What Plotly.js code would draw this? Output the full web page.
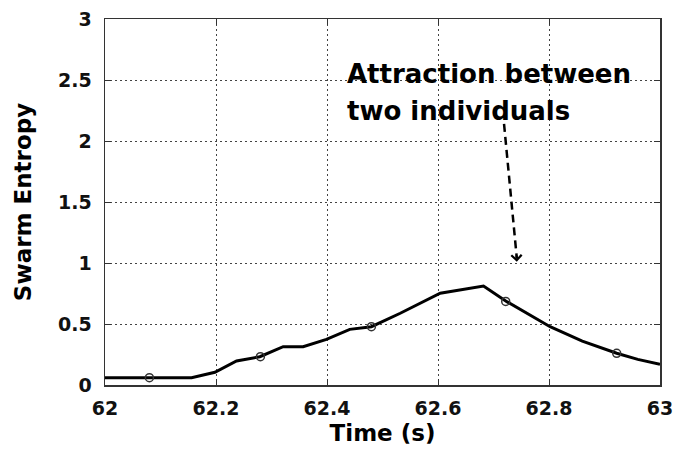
<!DOCTYPE html>
<html>
<head>
<meta charset="utf-8">
<script src="https://cdn.plot.ly/plotly-3.0.1.min.js"></script>
<style>
  html, body { margin: 0; padding: 0; background: #fff; }
  #chart { width: 675px; height: 452px; }
</style>
</head>
<body>
<div id="chart"></div>
<script>
// Line data
const time = [62.0, 62.04, 62.08, 62.12, 62.156, 62.198, 62.237, 62.279, 62.321, 62.357, 62.399, 62.441, 62.48, 62.532, 62.604, 62.682, 62.724, 62.802, 62.86, 62.922, 62.96, 63.0];
const entropy = [0.06, 0.06, 0.06, 0.06, 0.06, 0.104, 0.197, 0.232, 0.314, 0.314, 0.374, 0.456, 0.478, 0.588, 0.752, 0.811, 0.683, 0.478, 0.36, 0.26, 0.21, 0.17];

// Marker positions (open circles)
const markerTime = [62.08, 62.28, 62.48, 62.722, 62.922];
const markerEntropy = [0.06, 0.232, 0.478, 0.685, 0.26];

// Tick labels
const xTicks = [62, 62.2, 62.4, 62.6, 62.8, 63];
const xTickText = ['62', '62.2', '62.4', '62.6', '62.8', '63'];
const yTicks = [0, 0.5, 1, 1.5, 2, 2.5, 3];
const yTickText = ['0', '0.5', '1', '1.5', '2', '2.5', '3'];

// Annotation
const noteLine1 = 'Attraction between';
const noteLine2 = 'two individuals';
const noteX = 62.432, noteY1 = 2.55, noteY2 = 2.245;
const arrowStart = [62.719, 2.14];
const arrowEnd = [62.742, 1.01];

const font = 'DejaVu Sans, Arial, sans-serif';

const traces = [
  {
    x: time, y: entropy, type: 'scatter', mode: 'lines',
    line: { color: '#000', width: 3 }, hoverinfo: 'skip'
  },
  {
    x: markerTime, y: markerEntropy, type: 'scatter', mode: 'markers',
    marker: { symbol: 'circle-open', size: 8, color: '#333', line: { width: 1.5, color: '#333' } },
    hoverinfo: 'skip'
  }
];

const axisCommon = {
  showline: true, linecolor: '#333', linewidth: 1.5, mirror: 'ticks',
  ticks: 'inside', ticklen: 6, tickwidth: 1, tickcolor: '#333',
  showgrid: true, gridcolor: '#444', gridwidth: 1, griddash: '2px,3px',
  zeroline: false, tickfont: { family: font, size: 19, color: '#111', weight: 'bold' }
};

const layout = {
  width: 675, height: 452,
  margin: { l: 105, r: 15, t: 19, b: 67 },
  paper_bgcolor: '#fff', plot_bgcolor: '#fff',
  showlegend: false,
  xaxis: Object.assign({}, axisCommon, {
    range: [62, 63], tickvals: xTicks, ticktext: xTickText,
    ticklabelstandoff: 6,
    title: { text: 'Time (s)', font: { family: font, size: 23, color: '#000', weight: 'bold' }, standoff: 6 }
  }),
  yaxis: Object.assign({}, axisCommon, {
    range: [0, 3], tickvals: yTicks, ticktext: yTickText,
    ticklabelstandoff: 8,
    title: { text: 'Swarm Entropy', font: { family: font, size: 23, color: '#000', weight: 'bold' }, standoff: 20 }
  }),
  shapes: [
    {
      type: 'line', xref: 'x', yref: 'y',
      x0: arrowStart[0], y0: arrowStart[1], x1: arrowEnd[0], y1: arrowEnd[1] + 0.03,
      line: { color: '#000', width: 2.5, dash: '8px,5px' }
    }
  ],
  annotations: [
    {
      xref: 'x', yref: 'y', x: noteX, y: noteY1, xanchor: 'left', yanchor: 'middle',
      text: noteLine1, showarrow: false, align: 'left',
      font: { family: font, size: 26, color: '#000', weight: 'bold' }
    },
    {
      xref: 'x', yref: 'y', x: noteX, y: noteY2, xanchor: 'left', yanchor: 'middle',
      text: noteLine2, showarrow: false, align: 'left',
      font: { family: font, size: 26, color: '#000', weight: 'bold' }
    },
    {
      xref: 'x', yref: 'y', x: arrowEnd[0], y: arrowEnd[1], text: '',
      showarrow: true, arrowhead: 4, arrowsize: 1, arrowwidth: 2, arrowcolor: '#000',
      ax: -0.4, ay: -8, standoff: 0
    }
  ]
};

Plotly.newPlot('chart', traces, layout, { staticPlot: true, displayModeBar: false });
</script>
</body>
</html>
